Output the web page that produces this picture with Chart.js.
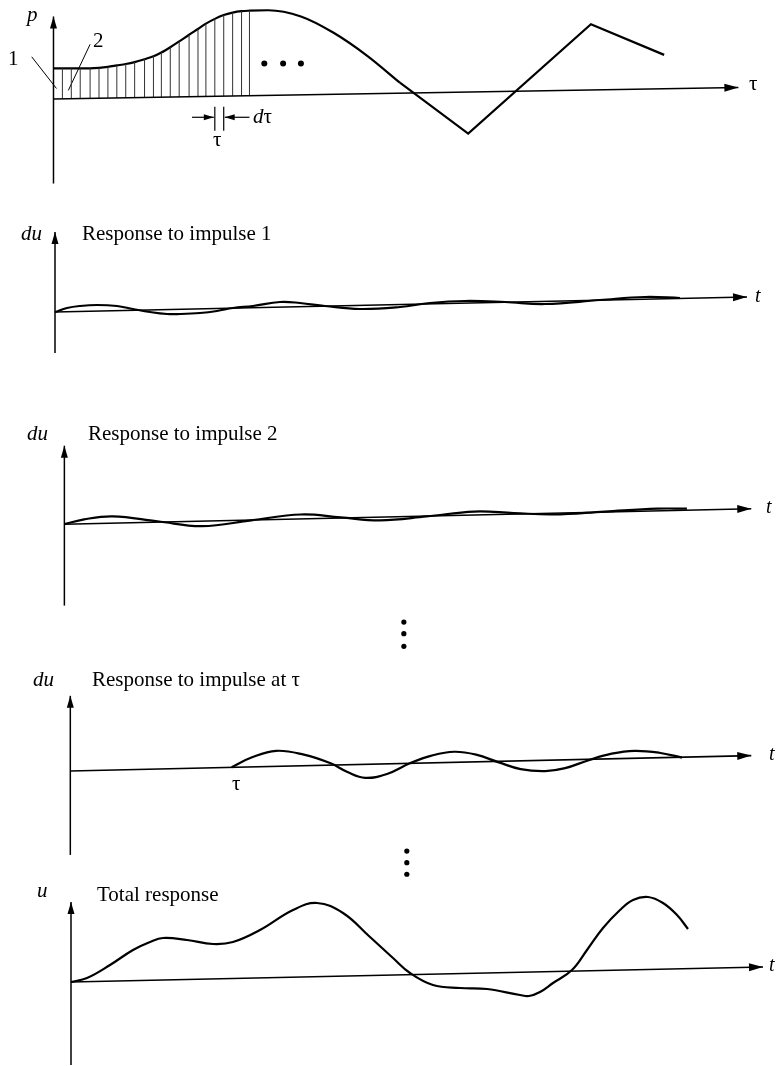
<!DOCTYPE html>
<html>
<head>
<meta charset="utf-8">
<script src="https://cdn.jsdelivr.net/npm/chart.js@4"></script>
<style>
  body { margin: 0; background: #fff; width: 779px; height: 1066px; position: relative; overflow: hidden;
         font-family: "Liberation Serif", "DejaVu Serif", serif; color: #000; }
  .panel { position: absolute; left: 0; width: 779px; }
  .lbl { position: absolute; font-size: 21px; line-height: 21px; white-space: nowrap; }
  .it { font-style: italic; }
  .sm { font-size: 20px; }
</style>
</head>
<body>
<div class="panel" id="wLoad"><canvas id="cLoad"></canvas></div>
<div class="panel" id="wImp1"><canvas id="cImp1"></canvas></div>
<div class="panel" id="wImp2"><canvas id="cImp2"></canvas></div>
<div class="panel" id="wImpTau"><canvas id="cImpTau"></canvas></div>
<div class="panel" id="wTotal"><canvas id="cTotal"></canvas></div>

<!-- panel 1 labels -->
<div class="lbl it" style="left:27px;top:4px">p</div>
<div class="lbl" style="left:8px;top:48px">1</div>
<div class="lbl" style="left:93px;top:30px">2</div>
<div class="lbl" style="left:749px;top:73px">τ</div>
<div class="lbl" style="left:253px;top:106px"><i>d</i>τ</div>
<div class="lbl" style="left:213px;top:129px">τ</div>

<!-- panel 2 -->
<div class="lbl it" style="left:21px;top:223px">du</div>
<div class="lbl" style="left:82px;top:223px">Response to impulse 1</div>
<div class="lbl it sm" style="left:755px;top:285px">t</div>

<!-- panel 3 -->
<div class="lbl it" style="left:27px;top:423px">du</div>
<div class="lbl" style="left:88px;top:423px">Response to impulse 2</div>
<div class="lbl it sm" style="left:766px;top:496px">t</div>

<!-- panel 4 -->
<div class="lbl it" style="left:33px;top:669px">du</div>
<div class="lbl" style="left:92px;top:669px">Response to impulse at τ</div>
<div class="lbl" style="left:232px;top:773px">τ</div>
<div class="lbl it sm" style="left:769px;top:743px">t</div>

<!-- panel 5 -->
<div class="lbl it" style="left:37px;top:880px">u</div>
<div class="lbl" style="left:97px;top:884px">Total response</div>
<div class="lbl it sm" style="left:769px;top:954px">t</div>

<script>
// ---- data (x = time from the vertical axis, y = value above the baseline start) ----

// panel 1: loading p(tau)
const loadTau = [0, 9, 18, 27, 37, 46, 55, 64, 73, 82, 92, 101, 109, 118, 127, 137, 146, 154, 163, 172, 181, 190, 198, 217, 250, 283, 317, 350];
const loadP   = [32, 32, 32, 32, 32, 32.5, 33.5, 35, 36.5, 38.5, 41.5, 44.5, 48.5, 54, 60, 67, 73, 78.5, 83.5, 87.5, 90, 91.5, 92, 92.5, 86, 69, 45, 17];
const loadLinTau = [350, 419, 543, 617];
const loadLinP   = [17, -36, 78, 46];
const hatchBase  = [0, 0, 0, 1, 1, 1, 1, 1, 1, 2, 2, 2, 2, 2, 2, 3, 3, 3, 3, 3, 3, 3];
const dtauTau    = [163, 172];
const loadAxisV  = [-88, 86];
const loadAxisEnd = [692, 12];

// panel 2: response to impulse 1
const imp1T = [0, 12, 25, 42, 62, 78, 95, 112, 125, 145, 162, 178, 198, 225, 245, 270, 305, 345, 375, 410, 450, 490, 545, 590, 625];
const imp1U = [0, 4, 6, 7, 6, 3, 0, -2, -2, -1, 1, 4, 6, 10, 9, 6, 3, 5, 9, 11, 10, 8, 12, 15, 14];
const imp1AxisV = [-41, 80];
const imp1AxisEnd = [692, 15];

// panel 3: response to impulse 2
const imp2T = [0, 20, 49, 94, 139, 189, 239, 279, 319, 366, 414, 454, 494, 546, 599, 629];
const imp2U = [0, 5, 8, 3, -2, 4, 10, 7, 4, 8, 13, 11.5, 10, 13, 16, 16];
const imp2AxisV = [-84, 81];
const imp2AxisEnd = [694, 16];
const gapDots1T = [343, 343, 343];
const gapDots1U = [-101, -113, -126];

// panel 4: response to impulse at tau
const impTauT = [163, 183, 208, 236, 263, 280, 298, 320, 343, 365, 388, 410, 433, 455, 480, 500, 523, 547, 570, 595, 618];
const impTauU = [4, 14, 21, 17, 8, -1, -7, -3, 8, 16, 20, 17, 9, 2, 0, 3, 11, 18, 21, 19, 14];
const impTauAxisV = [-87, 78];
const impTauAxisEnd = [688, 16];
const gapDots2T = [340, 340, 340];
const gapDots2U = [-83, -95, -107];

// panel 5: total response
const totalT = [0, 16, 39, 62, 79, 92, 116, 142, 162, 189, 222, 246, 272, 299, 322, 339, 362, 389, 416, 449, 458, 469, 482, 501, 516, 532, 549, 562, 577, 592, 606, 617];
const totalU = [0, 4, 17, 32, 40, 44, 42, 38, 40, 52, 72, 79, 69, 45, 24, 9, -3, -6, -7, -13, -14, -10, -1, 12, 32, 54, 72, 82, 85, 79, 67, 53];
const totalAxisV = [-83, 80];
const totalAxisEnd = [692, 15];

// ---- layout ----
const W = 779;
const INK = '#000';
const GEOM = {
  Load:   { top: 0,   height: 200, axisX: 50, y0: 99 },
  Imp1:   { top: 200, height: 160, axisX: 55, y0: 312 },
  Imp2:   { top: 400, height: 260, axisX: 61, y0: 524 },
  ImpTau: { top: 660, height: 225, axisX: 67, y0: 771 },
  Total:  { top: 885, height: 181, axisX: 71, y0: 982 }
};

function pts(xs, ys) {
  return xs.map((x, i) => ({ x, y: ys[i] }));
}

// vertical strokes separated by gaps
function strokes(xs, lo, hi) {
  const out = [];
  xs.forEach((x, i) => { out.push({ x, y: lo[i] }, { x, y: hi[i] }, { x, y: null }); });
  return out;
}

function line(data, extra) {
  return Object.assign({
    data, borderColor: INK, borderWidth: 2, pointRadius: 0,
    fill: false, tension: 0, spanGaps: false
  }, extra || {});
}

function curve(xs, ys) {
  return line(pts(xs, ys), { cubicInterpolationMode: 'monotone', borderWidth: 2.2 });
}

function wave(xs, ys) {
  return line(pts(xs, ys), { tension: 0.4, borderWidth: 2.2 });
}

function axes(v, end) {
  return [
    line(pts([0, 0], v), { borderWidth: 1.5, arrow: [12, 3.5] }),
    line(pts([0, end[0]], [0, end[1]]), { borderWidth: 1.6, arrow: [14, 4] })
  ];
}

function dots(xs, ys, r) {
  return { data: pts(xs, ys), showLine: false, pointRadius: r, pointBackgroundColor: INK, pointBorderWidth: 0 };
}

// filled arrowhead at the last point of a dataset
const arrowHeads = {
  id: 'arrowHeads',
  afterDatasetsDraw(chart) {
    const ctx = chart.ctx;
    chart.data.datasets.forEach((ds, i) => {
      if (!ds.arrow) return;
      const els = chart.getDatasetMeta(i).data;
      const a = els[els.length - 2], b = els[els.length - 1];
      const ang = Math.atan2(b.y - a.y, b.x - a.x);
      ctx.save();
      ctx.translate(b.x, b.y);
      ctx.rotate(ang);
      ctx.beginPath();
      ctx.moveTo(0, 0);
      ctx.lineTo(-ds.arrow[0], -ds.arrow[1]);
      ctx.lineTo(-ds.arrow[0], ds.arrow[1]);
      ctx.closePath();
      ctx.fillStyle = ds.borderColor;
      ctx.fill();
      ctx.restore();
    });
  }
};

function panel(name, datasets) {
  const g = GEOM[name];
  const wrap = document.getElementById('w' + name);
  wrap.style.top = g.top + 'px';
  wrap.style.height = g.height + 'px';
  return new Chart(document.getElementById('c' + name), {
    type: 'line',
    data: { datasets },
    options: {
      animation: false,
      responsive: true,
      maintainAspectRatio: false,
      devicePixelRatio: 1,
      events: [],
      layout: { padding: 0 },
      plugins: { legend: { display: false }, tooltip: { enabled: false } },
      scales: {
        x: { type: 'linear', display: false, min: -g.axisX, max: W - g.axisX },
        y: { type: 'linear', display: false, min: g.y0 - (g.top + g.height), max: g.y0 - g.top }
      }
    },
    plugins: [arrowHeads]
  });
}

// panel 1
const hatchTau = loadTau.slice(1, 23);
const hatchTop = loadP.slice(1, 23);
panel('Load', [
  ...axes(loadAxisV, loadAxisEnd),
  line(strokes(hatchTau, hatchBase, hatchTop), { borderWidth: 1, borderColor: '#333' }),
  curve(loadTau, loadP),
  line(pts(loadLinTau, loadLinP), { borderWidth: 2.2 }),
  line(strokes(dtauTau, [-8, -8], [-33, -33]), { borderWidth: 1.2 }),
  line(pts([140, 162], [-19, -19]), { borderWidth: 1.2, arrow: [10, 3] }),
  line(pts([198, 173], [-19, -19]), { borderWidth: 1.2, arrow: [10, 3] }),
  line(pts([-22, 3], [44, 11]), { borderWidth: 1 }),
  line(pts([37, 15], [57, 9]), { borderWidth: 1 }),
  dots([213, 232, 250], [37, 37, 37], 3)
]);

// panel 2
panel('Imp1', [
  ...axes(imp1AxisV, imp1AxisEnd),
  wave(imp1T, imp1U)
]);

// panel 3
panel('Imp2', [
  ...axes(imp2AxisV, imp2AxisEnd),
  wave(imp2T, imp2U),
  dots(gapDots1T, gapDots1U, 2.6)
]);

// panel 4
panel('ImpTau', [
  ...axes(impTauAxisV, impTauAxisEnd),
  wave(impTauT, impTauU),
  dots(gapDots2T, gapDots2U, 2.6)
]);

// panel 5
panel('Total', [
  ...axes(totalAxisV, totalAxisEnd),
  wave(totalT, totalU)
]);
</script>
</body>
</html>
